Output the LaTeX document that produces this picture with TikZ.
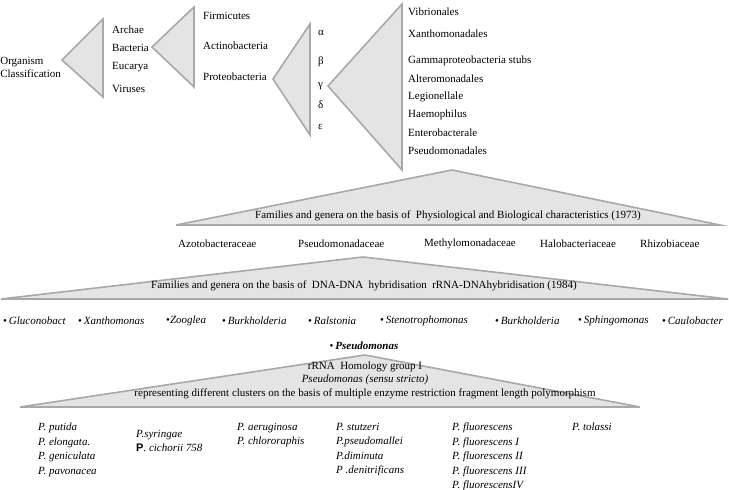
\documentclass[tikz,border=0pt]{standalone}
\usepackage{fontspec}
\setmainfont{Liberation Serif}
\setsansfont{Liberation Sans}
\definecolor{wedgefill}{RGB}{228,228,228}
\definecolor{wedgeline}{RGB}{168,168,168}
\begin{document}
\begin{tikzpicture}[x=1pt, y=-1pt,
    % Define styles
    wedge/.style={draw=wedgeline, fill=wedgefill, line width=1.6pt, line join=miter},
    taxon/.style={anchor=west, inner sep=0pt, font=\fontsize{11}{13}\selectfont},
    heading/.style={inner sep=0pt, font=\fontsize{11}{13}\selectfont},
    genus/.style={anchor=west, inner sep=0pt, font=\fontsize{11}{13}\selectfont\itshape},
    species/.style={anchor=north west, inner sep=0pt, align=left, font=\fontsize{11}{14.5}\selectfont\itshape}
]
\useasboundingbox (0,0) rectangle (729,490);

% Organism classification
\node[taxon, align=left, anchor=east] (organism) at (61,67) {Organism\\Classification};
\draw[wedge] (62,60) -- (103,19) -- (103,97) -- cycle;
\node[taxon] (archae) at (112,30) {Archae};
\node[taxon] (bacteria) at (112,48) {Bacteria};
\node[taxon] (eucarya) at (112,67) {Eucarya};
\node[taxon] (viruses) at (112,89) {Viruses};

% Bacteria
\draw[wedge] (152,47) -- (194,7) -- (194,87) -- cycle;
\node[taxon] (firmicutes) at (203,16) {Firmicutes};
\node[taxon] (actino) at (203,46) {Actinobacteria};
\node[taxon] (proteo) at (203,77) {Proteobacteria};

% Proteobacteria
\draw[wedge] (273,79) -- (310,24) -- (310,135) -- cycle;
\node[taxon] (alpha) at (318,33) {α};
\node[taxon] (beta) at (318,62) {β};
\node[taxon] (gamma) at (318,86) {γ};
\node[taxon] (delta) at (318,105) {δ};
\node[taxon] (epsilon) at (318,127) {ε};

% Gammaproteobacteria
\draw[wedge] (328,86) -- (402,4) -- (402,170) -- cycle;
\node[taxon] (vibrio) at (408,12) {Vibrionales};
\node[taxon] (xantho) at (408,34) {Xanthomonadales};
\node[taxon] (stubs) at (408,61) {Gammaproteobacteria stubs};
\node[taxon] (altero) at (408,79) {Alteromonadales};
\node[taxon] (legio) at (408,97) {Legionellale};
\node[taxon] (haemo) at (408,115) {Haemophilus};
\node[taxon] (entero) at (408,133) {Enterobacterale};
\node[taxon] (pseudoales) at (408,151) {Pseudomonadales};

% Families (1973)
\draw[wedge] (452,170) -- (720,225) -- (176,225) -- cycle;
\node[heading] (physio) at (448,216) {Families and genera on the basis of \ Physiological and Biological characteristics (1973)};
\node[taxon] (azoto) at (178,244) {Azotobacteraceae};
\node[taxon] (pseudoceae) at (298,244) {Pseudomonadaceae};
\node[taxon] (methylo) at (424,244) {Methylomonadaceae};
\node[taxon] (halo) at (540,244) {Halobacteriaceae};
\node[taxon] (rhizo) at (640,244) {Rhizobiaceae};

% Genera (1984)
\draw[wedge] (363,257) -- (728,299) -- (1,299) -- cycle;
\node[heading] (dnadna) at (364,286) {Families and genera on the basis of \ DNA-DNA \ hybridisation \ rRNA-DNAhybridisation (1984)};
\node[genus] (glucono) at (3,321) {\upshape•\,\itshape Gluconobact};
\node[genus] (xanthomonas) at (78,321) {\upshape•\,\itshape Xanthomonas};
\node[genus] (zooglea) at (166,321) {\upshape•\itshape Zooglea};
\node[genus] (burk1) at (222,321) {\upshape•\,\itshape Burkholderia};
\node[genus] (ralstonia) at (308,321) {\upshape•\,\itshape Ralstonia};
\node[genus] (steno) at (380,321) {\upshape•\,\itshape Stenotrophomonas};
\node[genus] (burk2) at (495,321) {\upshape•\,\itshape Burkholderia};
\node[genus] (sphingo) at (578,321) {\upshape•\,\itshape Sphingomonas};
\node[genus] (caulo) at (662,321) {\upshape•\,\itshape Caulobacter};
\node[heading] (pseudomonas) at (364,346) {\upshape•\,\bfseries\itshape Pseudomonas};

% rRNA homology group I
\draw[wedge] (365,355) -- (640,407) -- (20,407) -- cycle;
\node[heading] (homology) at (365,367) {rRNA \ Homology group I};
\node[heading] (sensu) at (365,380) {\itshape Pseudomonas (sensu stricto)};
\node[heading] (rflp) at (365,394) {representing different clusters on the basis of multiple enzyme restriction fragment length polymorphism};

% Species
\node[species] (putida) at (38,423) {P. putida\\P. elongata.\\P. geniculata\\P. pavonacea};
\node[species] (syringae) at (136,430) {P.syringae\\{\sffamily\bfseries\upshape P}. cichorii 758};
\node[species] (aeruginosa) at (237,423) {P. aeruginosa\\P. chlororaphis};
\node[species] (stutzeri) at (336,423) {P. stutzeri\\P.pseudomallei\\P.diminuta\\P .denitrificans};
\node[species] (fluorescens) at (452,423) {P. fluorescens\\P. fluorescens I\\P. fluorescens II\\P. fluorescens III\\P. fluorescensIV};
\node[species] (tolassi) at (572,423) {P. tolassi};

\end{tikzpicture}
\end{document}
